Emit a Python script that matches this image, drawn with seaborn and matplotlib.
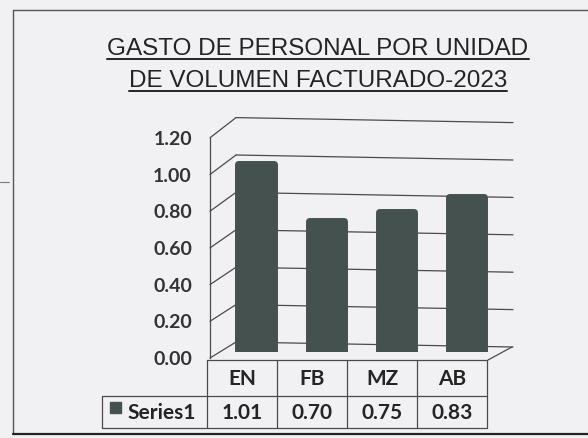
import matplotlib
matplotlib.use("Agg")
import matplotlib.pyplot as plt
from matplotlib.patches import Rectangle
import seaborn as sns

# ---- data -------------------------------------------------------------
title_lines = ["GASTO DE PERSONAL POR UNIDAD", "DE VOLUMEN FACTURADO-2023"]
categories = ["EN", "FB", "MZ", "AB"]
values = [1.01, 0.70, 0.75, 0.83]
series_name = "Series1"
y_ticks = [0.0, 0.2, 0.4, 0.6, 0.8, 1.0, 1.2]

# ---- look -------------------------------------------------------------
W, H = 588, 438
BG = "#f1f0f3"
BAR = "#45514f"
INK = "#242424"
LINE = "#4a4a4a"

sns.set_theme(style="white")
plt.rcParams["font.family"] = ["Lato", "DejaVu Sans"]

fig = plt.figure(figsize=(W / 100, H / 100), dpi=100, facecolor=BG)


def frac(x0, y0, x1, y1):
    """Pixel box (origin top-left) -> figure fraction rect."""
    return [x0 / W, 1 - y1 / H, (x1 - x0) / W, (y1 - y0) / H]


# overlay in pixel units for frame, walls and table
ov = fig.add_axes([0, 0, 1, 1], zorder=0)
ov.set_xlim(0, W)
ov.set_ylim(H, 0)
ov.axis("off")

# pseudo-3D wall geometry
X_FRONT, X_BACK_L, X_BACK_R = 210, 236, 513


def y_front(v):
    return 358 - 183.5 * v


def y_back_l(v):
    return 342 - 187 * v


def y_back_r(v):
    return 347 - 187 * v


# outer frame
ov.plot([13, W], [10, 10], color="#555555", lw=1.0)
ov.plot([13, 13], [10, 434], color="#555555", lw=1.0)
ov.plot([13, W], [434, 434], color="#222222", lw=1.6)
ov.plot([0, 9], [182, 182], color="#777777", lw=0.8)

# title with underline
title_texts = []
for i, line in enumerate(title_lines):
    t = ov.text(318, 55 + 32 * i, line, ha="center", va="baseline",
                fontsize=17.5, color=INK, family=["Liberation Sans", "DejaVu Sans"])
    title_texts.append(t)

# walls: gridlines on the back wall and diagonals on the side wall
for v in y_ticks:
    ov.plot([X_FRONT, X_BACK_L], [y_front(v), y_back_l(v)], color=LINE, lw=0.9)
    ov.plot([X_BACK_L, X_BACK_R], [y_back_l(v), y_back_r(v)], color=LINE, lw=0.9)

# floor
ov.plot([488, 512], [360, 347], color=LINE, lw=0.9)

# ---- bars -------------------------------------------------------------
PX_PER_UNIT = 186
BAR_BASE = 351.5
ax = fig.add_axes(frac(221, BAR_BASE - 1.2 * PX_PER_UNIT, 501, BAR_BASE), zorder=2)
ax.patch.set_alpha(0)
sns.barplot(x=categories, y=values, color=BAR, saturation=1, width=0.5,
            edgecolor=BAR, linewidth=5, ax=ax)
for p in ax.patches:
    p.set_joinstyle("round")
ax.set_xlim(-0.5, len(categories) - 0.5)
ax.set_ylim(0, 1.2)
ax.axis("off")

# ---- value axis on the front edge -------------------------------------
fa = fig.add_axes(frac(X_FRONT, y_front(1.2), X_FRONT + 1, y_front(0)), zorder=1)
fa.patch.set_alpha(0)
fa.set_ylim(0, 1.2)
fa.set_yticks(y_ticks)
fa.set_yticklabels([f"{v:.2f}" for v in y_ticks], fontsize=14,
                   fontweight="bold", color="#333333")
fa.set_xticks([])
fa.tick_params(axis="y", length=0, pad=13)
for side in ["top", "right", "bottom"]:
    fa.spines[side].set_visible(False)
fa.spines["left"].set_color(LINE)
fa.spines["left"].set_linewidth(0.9)

# ---- data table -------------------------------------------------------
fig.canvas.draw()
DEPTH = 14
to_ov = ov.transData.inverted()
centers = [to_ov.transform(ax.transData.transform((i, 0)))[0] - DEPTH
           for i in range(len(categories))]
step = centers[1] - centers[0]
edges = [centers[0] - step / 2] + [c + step / 2 for c in centers]

T_TOP, T_MID, T_BOT, T_LEFT = 360, 396, 428, 102
ov.plot([edges[0], edges[-1]], [T_TOP, T_TOP], color=LINE, lw=0.9)
ov.plot([T_LEFT, edges[-1]], [T_MID, T_MID], color=LINE, lw=0.9)
ov.plot([T_LEFT, edges[-1]], [T_BOT, T_BOT], color=LINE, lw=0.9)
ov.plot([T_LEFT, T_LEFT], [T_MID, T_BOT], color=LINE, lw=0.9)
for e in edges:
    ov.plot([e, e], [T_TOP, T_BOT], color=LINE, lw=0.9)

for c, cat, val in zip(centers, categories, values):
    ov.text(c, (T_TOP + T_MID) / 2 + 1, cat, ha="center", va="center",
            fontsize=15, fontweight="bold", color=INK)
    ov.text(c, (T_MID + T_BOT) / 2 + 1, f"{val:.2f}", ha="center", va="center",
            fontsize=15, fontweight="bold", color=INK)

ov.add_patch(Rectangle((110, 402), 11, 11, color=BAR))
ov.text(127, (T_MID + T_BOT) / 2 + 1, series_name, ha="left", va="center",
        fontsize=15, fontweight="bold", color=INK)

# underline the title lines
for t in title_texts:
    bb = t.get_window_extent()
    x0 = to_ov.transform((bb.x0, bb.y0))[0]
    x1 = to_ov.transform((bb.x1, bb.y0))[0]
    y = t.get_position()[1] + 4
    ov.plot([x0, x1], [y, y], color=INK, lw=1.4)

fig.savefig("out.png", dpi=100, facecolor=BG)
